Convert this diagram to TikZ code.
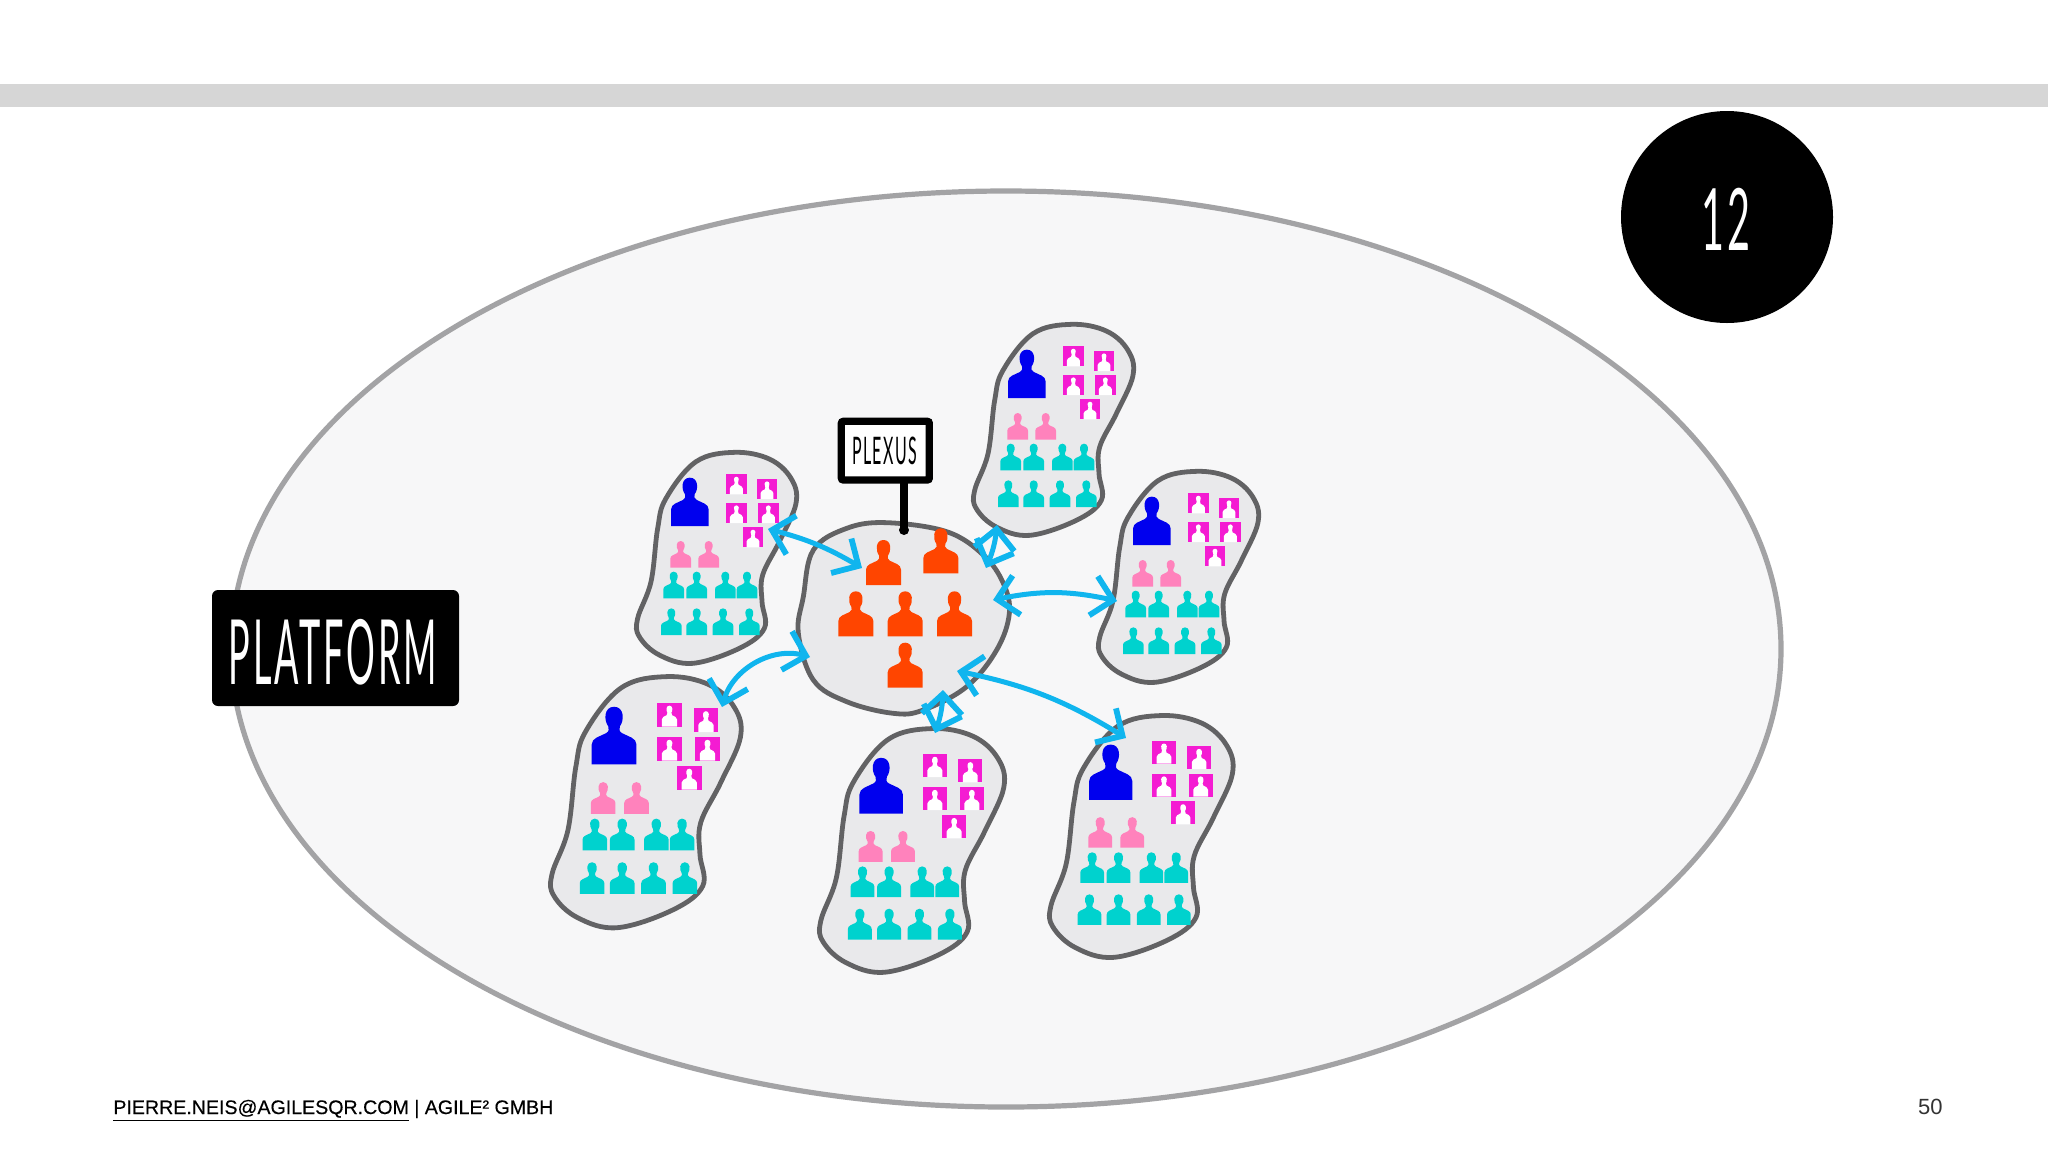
\documentclass[tikz,border=0pt]{standalone}
\usepackage{fontspec}
\usetikzlibrary{arrows.meta}
\setmainfont{Liberation Sans}
\newfontfamily\handfont[LetterSpace=8]{Lato}
\newfontfamily\footfont[FakeBold=0.35]{Liberation Sans}
\definecolor{barcol}{HTML}{D6D6D6}
\definecolor{ellfill}{HTML}{F7F7F8}
\definecolor{ellline}{HTML}{A3A3A5}
\definecolor{blobfill}{HTML}{E9E9EB}
\definecolor{blobline}{HTML}{626264}
\definecolor{bluep}{HTML}{0000EE}
\definecolor{pinkp}{HTML}{FF82BC}
\definecolor{tealp}{HTML}{00D2CE}
\definecolor{magp}{HTML}{F41CD2}
\definecolor{orangep}{HTML}{FF4500}
\definecolor{linkc}{HTML}{10B5EE}
\newcommand{\personpath}{(0,1) -- (0,.66) .. controls (0,.54) and (.18,.52) .. (.32,.46) .. controls (.39,.43) and (.39,.39) .. (.37,.34) .. controls (.27,.24) and (.27,0) .. (.5,0) .. controls (.73,0) and (.73,.24) .. (.63,.34) .. controls (.61,.39) and (.61,.43) .. (.68,.46) .. controls (.82,.52) and (1,.54) .. (1,.66) -- (1,1) -- cycle}
\newcommand{\personicon}[5]{\fill[#5,shift={(#1,#2)},xscale=#3,yscale=#4] \personpath;}
\newcommand{\photoicon}[2]{\begin{scope}[shift={(#1,#2)},xscale=62,yscale=60]
\fill[magp] (0,0) rectangle (1,1);
\fill[white,shift={(.19,.12)},xscale=.62,yscale=.88] \personpath;
\end{scope}}
\newcommand{\teamblob}[3]{\begin{scope}[shift={(#1,#2)},scale=#3/3,shift={(-40,-68)}]
\draw[blobstyle] plot[smooth cycle,tension=.62] coordinates {(335,72) (440,92) (505,150) (520,225) (470,340) (420,440) (418,520) (425,600) (350,660) (210,705) (110,680) (50,625) (45,570) (85,460) (105,300) (130,210) (220,100)};
\personicon{145}{148}{113}{145}{bluep}
\photoicon{310}{138}\photoicon{402}{152}\photoicon{310}{224}\photoicon{406}{224}\photoicon{360}{297}
\personicon{143}{338}{62}{80}{pinkp}\personicon{227}{338}{62}{80}{pinkp}
\personicon{122}{430}{62}{80}{tealp}\personicon{191}{430}{62}{80}{tealp}\personicon{277}{430}{62}{80}{tealp}\personicon{342}{430}{62}{80}{tealp}
\personicon{115}{540}{62}{80}{tealp}\personicon{191}{540}{62}{80}{tealp}\personicon{270}{540}{62}{80}{tealp}\personicon{349}{540}{62}{80}{tealp}
\end{scope}}
\tikzset{
 blobstyle/.style={fill=blobfill,draw=blobline,line width=2.4pt},
 linkstyle/.style={draw=linkc,line width=2.5pt,{Straight Barb[length=10pt,width=20pt,line width=2.9pt]}-{Straight Barb[length=10pt,width=20pt,line width=2.9pt]}},
 handtext/.style={inner sep=0pt,font=\handfont}
}
\begin{document}
\begin{tikzpicture}[x=.5pt,y=-.5pt]
\useasboundingbox (0,0) rectangle (2048,1152);
\fill[white] (0,0) rectangle (2048,1152);
\fill[barcol] (0,84) rectangle (2048,107);
\draw[fill=ellfill,draw=ellline,line width=2.6pt] (1006,649) ellipse [x radius=775,y radius=458];
\fill[black] (1727,217) circle [radius=106];
\node[handtext,text=white] (num) at (1726,219) {\fontsize{43}{43}\selectfont\scalebox{.46}[1]{12}};
\fill[black,rounded corners=3pt] (212,590) rectangle (459,706);
\node[handtext,text=white] (plat) at (333,652) {\fontsize{45}{45}\selectfont\scalebox{.4}[1]{PLATFORM}};
% teams
\teamblob{973}{323}{1}
\teamblob{1098}{470}{1}
\teamblob{636}{451}{1}
\teamblob{550}{675}{1.19}
\teamblob{819}{727}{1.155}
\teamblob{1049}{714}{1.146}
% plexus
\begin{scope}[shift={(780,400)},scale=1/3]
\draw[blobstyle] plot[smooth cycle,tension=.62] coordinates {(320,368) (500,395) (610,465) (670,550) (688,640) (650,750) (560,860) (430,930) (340,940) (200,905) (100,840) (55,700) (70,590) (100,450) (200,385)};
\personicon{258}{420}{105}{135}{orangep}
\personicon{430}{385}{105}{135}{orangep}
\personicon{175}{574}{105}{135}{orangep}
\personicon{323}{574}{105}{135}{orangep}
\personicon{471}{574}{105}{135}{orangep}
\personicon{323}{728}{105}{135}{orangep}
\draw[black,line width=4pt,line cap=round] (372,245) -- (372,390);
\fill[black] (372,390) circle [radius=15];
\draw[fill=white,draw=black,line width=3.6pt,rounded corners=1pt] (184,64) rectangle (448,240);
\foreach \cx/\cy in {186/66,446/66,186/238,446/238} \fill[black] (\cx,\cy) circle [radius=11];
\node[handtext,text=black] (plexus) at (314,152) {\fontsize{19}{19}\selectfont\scalebox{.42}[1]{PLEXUS}};
\end{scope}
% links
\coordinate (a1s) at (768,529); \coordinate (a1e) at (862,568);
\coordinate (a2s) at (722,707); \coordinate (a2e) at (810,657);
\coordinate (a3s) at (997,525); \coordinate (a3e) at (986,568);
\coordinate (a4s) at (993,600); \coordinate (a4e) at (1117,601);
\coordinate (a5s) at (957,671); \coordinate (a5e) at (1126,738);
\coordinate (a6s) at (943,690); \coordinate (a6e) at (935,733);
\draw[linkstyle] (a1s) to[bend left=8] (a1e);
\draw[linkstyle] (a2s) to[bend left=45] (a2e);
\draw[linkstyle] (a3s) to[bend left=8] (a3e);
\draw[linkstyle] (a4s) to[bend left=12] (a4e);
\draw[linkstyle] (a5s) to[bend left=10] (a5e);
\draw[linkstyle] (a6s) to[bend left=8] (a6e);
% footer
\node[anchor=base west,inner sep=0pt,font=\footfont\fontsize{9.8}{12}\selectfont] (foot) at (113,1114) {\underline{PIERRE.NEIS@AGILESQR.COM} | AGILE² GMBH};
\node[anchor=base east,inner sep=0pt,font=\fontsize{11}{12}\selectfont,text=black!80] (page) at (1943,1114) {50};
\end{tikzpicture}
\end{document}
